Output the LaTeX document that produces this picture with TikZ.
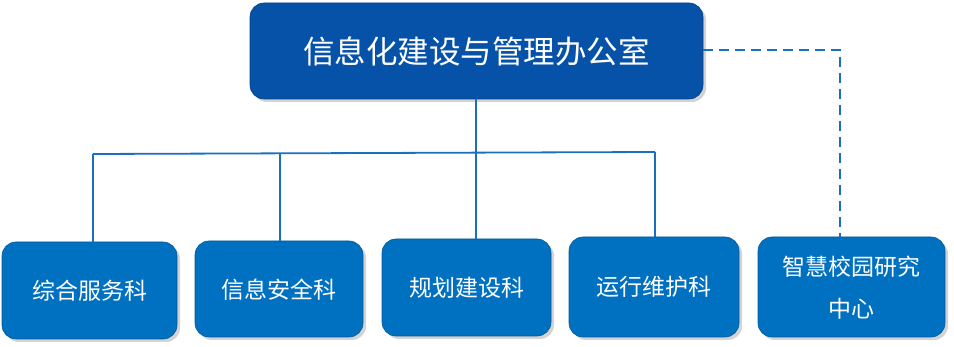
\documentclass[tikz,border=0pt]{standalone}
\usepackage{fontspec}
\newfontfamily\cjk{Noto Sans CJK SC}
\usetikzlibrary{shadows}
\definecolor{topblue}{HTML}{0652A8}
\definecolor{boxblue}{HTML}{0070C0}
\definecolor{lineblue}{HTML}{1A6FBF}
\tikzset{
  topbox/.style={fill=topblue, draw=topblue!80!black, line width=0.6pt, rounded corners=14pt,
    drop shadow={shadow xshift=3pt, shadow yshift=-3pt, opacity=0.35}},
  subbox/.style={fill=boxblue, draw=boxblue!80!black, line width=0.6pt, rounded corners=14pt,
    drop shadow={shadow xshift=3pt, shadow yshift=-3pt, opacity=0.35}},
  lbl/.style={text=white, font=\cjk\fontsize{23}{40}\selectfont, align=center},
  link/.style={draw=lineblue, line width=1.8pt},
  dlink/.style={draw=lineblue, line width=1.8pt, dash pattern=on 10pt off 6pt}
}
\begin{document}
\begin{tikzpicture}[x=1pt,y=-1pt]
\useasboundingbox (0,0) rectangle (954,347);
% boxes
\path[topbox] (250,3) rectangle (703,99);
\node[text=white, font=\cjk\fontsize{31.5}{36}\selectfont] (top) at (476.5,51) {信息化建设与管理办公室};
\coordinate (topB) at (476,99);
\coordinate (topR) at (703,50);

\path[subbox] (2,242) rectangle (177,339);
\node[lbl] (a) at (89.5,291) {综合服务科};
\path[subbox] (195,241) rectangle (363,337);
\node[lbl] (b) at (279,290) {信息安全科};
\path[subbox] (382,239) rectangle (551,336);
\node[lbl] (c) at (466.5,288) {规划建设科};
\path[subbox] (569,237) rectangle (739,337);
\node[lbl] (d) at (654,287) {运行维护科};
\path[subbox] (758,237) rectangle (945,337);
\node[lbl, font=\cjk\fontsize{23}{42}\selectfont] (e) at (851.5,288) {智慧校园研究\\中心};

\coordinate (aT) at (93,242);
\coordinate (bT) at (280,241);
\coordinate (cT) at (476,239);
\coordinate (dT) at (655,237);
\coordinate (eT) at (840,237);
\coordinate (hL) at (93,154);
\coordinate (hR) at (655,152);

% connectors
\draw[link] (topB) -- (476,153);
\draw[link] (hL) -- (hR);
\draw[link] (hL) -- (aT);
\draw[link] (280,153.4) -- (bT);
\draw[link] (476,153) -- (cT);
\draw[link] (hR) -- (dT);
\draw[dlink] (topR) -- (840,50) -- (eT);
\end{tikzpicture}
\end{document}
